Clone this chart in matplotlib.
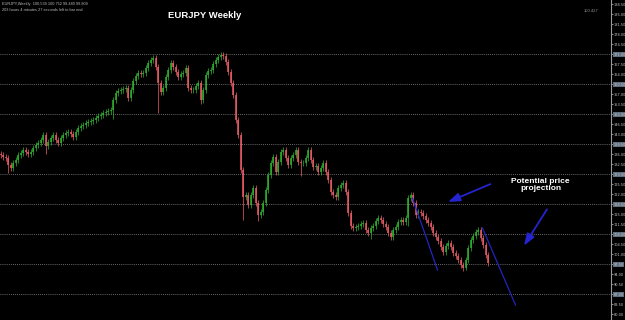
import matplotlib
matplotlib.use("Agg")
import matplotlib.pyplot as plt
import numpy as np

# weekly closes (EURJPY)
closes = [
    135.75, 135.05, 134.7, 132.25, 131.2, 132.95, 134.0, 135.75, 136.45, 137.5,
    136.8, 136.1, 136.8, 138.2, 139.25, 139.95, 141.0, 142.75, 138.9, 140.3,
    141.7, 142.75, 141.0, 139.95, 141.7, 142.75, 143.45, 143.8, 143.1, 142.05,
    143.8, 145.2, 145.9, 146.25, 146.95, 147.3, 147.65, 148.0, 148.7, 149.4,
    149.75, 150.45, 150.8, 151.15, 151.5, 155.0, 157.45, 158.15, 158.5, 158.85,
    159.2, 155.7, 158.5, 161.65, 163.4, 164.45, 164.1, 164.45, 166.2, 167.95,
    169.0, 169.7, 166.55, 160.95, 157.8, 159.2, 163.05, 165.5, 167.95, 166.55,
    164.8, 163.05, 164.1, 164.45, 166.2, 159.2, 158.5, 158.5, 159.9, 160.95,
    155.0, 158.5, 163.75, 165.15, 165.5, 167.6, 169.0, 170.05, 170.75, 170.4,
    168.3, 164.8, 160.95, 156.75, 148.0, 142.75, 130.5, 121.05, 121.75, 118.25,
    121.75, 124.2, 118.95, 114.75, 115.8, 118.95, 123.5, 128.75, 132.95, 135.05,
    129.8, 133.3, 136.8, 137.5, 134.7, 132.25, 134.7, 135.75, 137.5, 133.3,
    132.95, 132.95, 134.7, 137.5, 134.0, 131.55, 131.9, 129.8, 131.2, 132.95,
    129.8, 127.0, 122.8, 121.75, 121.05, 124.2, 125.25, 125.95, 122.8, 115.45,
    110.9, 110.2, 110.55, 110.9, 111.6, 111.95, 109.5, 108.45, 110.2, 110.9,
    112.65, 113.7, 113.0, 111.6, 110.55, 108.45, 107.05, 109.5, 110.55, 112.3,
    113.0, 112.3, 113.7, 120.7, 121.75, 118.95, 114.75, 115.8, 115.45, 114.4,
    113.0, 111.95, 110.55, 108.45, 107.05, 105.65, 103.55, 101.8, 103.9, 104.95,
    103.55, 101.45, 100.4, 99.0, 97.25, 96.2, 99.0, 103.2, 106.0, 107.4,
    108.8, 109.5, 106.7, 104.25, 100.75, 97.95,
]
# a few weeks with long lower shadows
spike_idx = [3, 18, 45, 63, 80, 97, 103, 120, 148, 163, 186]
spike_low = [129.5, 136.0, 148.5, 150.5, 153.5, 113.0, 112.5, 128.5, 106.5, 111.0, 95.5]

grid_levels = [87.0, 97.5, 108.0, 118.5, 129.0, 139.5, 150.0, 160.5, 171.0]
tick_levels = [80.0 + 3.5 * k for k in range(32)]

# annotations (candle index, price)
arrows = [((197.0, 125.95), (178.0, 118.95)),
          ((219.2, 117.55), (208.8, 103.2))]
proj_lines = [((164.8, 120.7), (174.8, 95.5)),
              ((192.8, 110.2), (206.0, 83.25))]

closes = np.array(closes)
opens = np.r_[closes[0] + 0.4, closes[:-1]]
highs = np.maximum(opens, closes) + 0.9
lows = np.minimum(opens, closes) - 0.9
lows[spike_idx] = spike_low
x = np.arange(len(closes))
up = closes >= opens

fig = plt.figure(figsize=(6.25, 3.2), dpi=100, facecolor="black")
ax = fig.add_axes([0, 0, 611 / 625, 1])
ax.set_facecolor("black")

green = "#2fb52f"
red = "#ef5f68"
cols = np.where(up, green, red)
ax.vlines(x, lows, highs, colors=cols, lw=0.5)
ax.vlines(x, opens, closes, colors=cols, lw=1.1)

for g in grid_levels:
    ax.axhline(g, color="#8a8a8a", lw=0.6, ls=(0, (1, 1.5)), zorder=0)

for (x0, y0), (x1, y1) in arrows:
    ax.annotate("", xy=(x1, y1), xytext=(x0, y0),
                arrowprops=dict(arrowstyle="-|>,head_length=0.7,head_width=0.25",
                                color="#2424d0", lw=1.3))
for (x0, y0), (x1, y1) in proj_lines:
    ax.plot([x0, x1], [y0, y1], color="#2424c0", lw=0.9)

ax.set_xlim(-0.2, 244.2)
ax.set_ylim(78.0, 190.0)
ax.set_xticks([])
ax.yaxis.tick_right()
ax.set_yticks(tick_levels)
lbls = ax.set_yticklabels(["%.2f" % t for t in tick_levels])
ax.tick_params(axis="y", labelsize=2.5, colors="#c8c8c8", length=1.2, width=0.5, pad=0.6)
for t, lb in zip(tick_levels, lbls):
    if any(abs(t - g) < 1e-6 for g in grid_levels):
        lb.set_bbox(dict(facecolor="#5f6f80", edgecolor="none", pad=0.5))
for s in ["top", "left", "bottom"]:
    ax.spines[s].set_visible(False)
ax.spines["right"].set_color("#9a9a9a")
ax.spines["right"].set_linewidth(0.8)

fig.text(2 / 625, 1 - 4 / 320, "EURJPY,Weekly  100.539 100.752 99.480 99.809",
         fontsize=2.8, color="#bbbbbb", va="center", family="Liberation Sans")
fig.text(2 / 625, 1 - 10 / 320, "203 hours 4 minutes 27 seconds left to bar end",
         fontsize=2.8, color="#bbbbbb", va="center", family="Liberation Sans")
fig.text(591 / 625, 1 - 11 / 320, "100.427", fontsize=3, color="#999999",
         va="center", ha="center", family="Liberation Sans")
fig.text(205 / 625, 1 - 15 / 320, "EURJPY Weekly", fontsize=6.8, color="white",
         fontweight="bold", ha="center", va="center", family="Liberation Sans")
ax.text(216.0, 125.3, "Potential price\nprojection", fontsize=6, color="white",
        fontweight="bold", ha="center", va="center", linespacing=1.1,
        family="Liberation Sans")

fig.savefig("out.png", dpi=100, facecolor="black")
